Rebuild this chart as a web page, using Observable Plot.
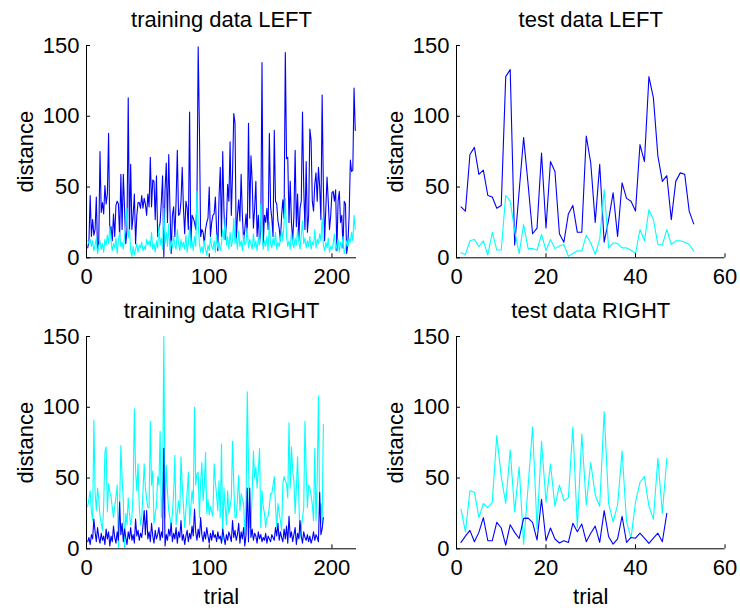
<!DOCTYPE html>
<html>
<head>
<meta charset="utf-8">
<script src="https://cdn.jsdelivr.net/npm/d3@7"></script>
<script src="https://cdn.jsdelivr.net/npm/@observablehq/plot@0.6"></script>
<style>
  html, body { margin: 0; padding: 0; background: #fff; }
  #wrap { position: relative; width: 740px; height: 608px; background: #fff; }
  #wrap svg { position: absolute; }
</style>
</head>
<body>
<div id="wrap"></div>
<script>
// ---------- data ----------
const titles = ["training data LEFT", "test data LEFT", "training data RIGHT", "test data RIGHT"];
const yLabel = "distance";
const xLabel = "trial";
const yTicks = [0, 50, 100, 150];
const trainTicks = [0, 100, 200];
const testTicks = [0, 20, 40, 60];
const trainDomain = [0, 220];
const testDomain = [0, 60];

const trainLeftBlue = [
  7,12,44,15,27,16,20,43,5,12,
  75,32,39,31,51,38,45,88,17,22,
  12,31,15,37,40,38,15,59,20,59,
  35,10,20,113,17,66,20,30,45,10,
  30,39,39,35,44,35,42,38,30,45,
  36,71,36,55,54,27,58,15,20,25,
  40,58,1,48,67,25,73,35,3,30,
  36,15,40,76,30,31,40,64,35,17,
  40,35,20,103,10,30,28,25,20,40,
  149,92,15,20,18,10,20,25,28,50,
  15,25,30,31,43,20,5,43,64,15,
  75,33,13,24,52,40,82,30,60,102,
  95,12,30,41,26,59,30,12,20,31,
  15,95,28,72,54,21,35,54,15,30,
  10,20,138,9,30,25,35,20,88,36,
  28,15,90,40,38,26,21,12,30,41,
  28,145,70,71,25,54,25,12,30,76,
  22,45,12,35,40,103,50,20,68,18,
  30,91,83,40,33,52,60,40,64,50,
  27,115,50,12,35,57,40,20,30,46,
  47,40,48,5,40,47,25,30,7,40,
  38,3,10,30,69,61,62,120,90
];
const trainLeftCyan = [
  12,10,13,8,12,5,9,14,3,8,
  12,6,10,4,13,9,16,10,22,12,
  5,10,7,14,3,12,18,8,11,6,
  15,22,35,14,20,5,1,8,2,6,
  10,4,9,7,11,5,8,6,13,9,
  12,8,18,6,10,4,12,7,23,9,
  14,6,35,10,18,8,24,5,12,7,
  15,9,6,20,10,5,13,8,11,6,
  16,4,10,22,7,12,5,15,8,47,
  25,10,4,8,3,12,6,2,9,5,
  14,8,6,12,4,16,7,11,5,10,
  20,13,28,9,15,6,18,8,12,28,
  10,14,6,19,8,12,5,16,9,11,
  21,7,13,10,6,17,8,12,5,14,
  9,38,20,6,12,8,15,5,25,10,
  7,14,9,18,6,11,8,13,20,12,
  25,42,15,8,12,6,18,10,7,14,
  9,20,11,6,16,26,10,14,7,12,
  8,15,6,11,9,20,7,13,10,17,
  12,28,9,5,11,7,14,4,8,6,
  10,17,5,9,13,4,11,7,15,3,
  6,12,8,14,11,18,12,30,20
];
const trainRightCyan = [
  30,35,41,26,20,91,40,27,43,35,
  23,18,13,30,68,72,26,46,40,37,
  29,22,30,37,45,1,30,73,50,34,
  1,25,17,36,25,17,22,40,99,55,
  41,60,30,17,22,40,60,43,35,29,
  29,90,45,55,18,25,30,51,45,83,
  22,40,150,22,59,40,27,22,15,25,
  39,66,17,25,34,25,65,45,30,15,
  28,40,54,17,30,41,32,100,45,53,
  54,22,47,61,34,45,68,25,35,24,
  30,26,23,60,47,38,27,48,22,74,
  6,43,30,17,41,25,30,36,76,45,
  22,22,35,52,27,39,35,32,11,32,
  111,60,15,15,40,69,50,58,43,55,
  71,15,41,30,25,15,22,23,30,39,
  39,45,51,30,15,32,25,20,13,46,
  51,48,46,36,89,43,72,55,48,25,
  43,65,35,8,15,22,29,90,55,29,
  45,43,38,31,20,71,20,50,108,25,
  32,18,88
];
const trainRightBlue = [
  5,8,3,10,7,21,12,5,15,8,
  4,11,6,9,3,14,7,12,2,9,
  5,16,8,4,12,6,33,10,18,5,
  14,8,3,12,7,15,6,10,4,21,
  9,13,6,11,8,16,27,10,27,7,
  12,5,18,9,4,13,7,10,15,6,
  12,8,71,2,10,6,14,9,18,5,
  11,7,15,4,12,8,20,6,10,3,
  9,13,5,11,7,16,9,28,12,6,
  14,8,22,10,5,12,7,15,9,4,
  11,6,13,8,10,5,12,7,9,4,
  14,8,3,10,6,12,9,5,20,8,
  13,6,10,18,4,12,7,15,2,10,
  43,5,43,8,14,6,11,9,4,12,
  7,10,5,8,6,11,4,9,7,5,
  10,8,6,15,9,18,6,12,8,5,
  14,7,16,4,23,8,12,5,10,15,
  3,11,7,20,9,4,12,8,6,10,
  5,9,4,7,12,6,10,8,5,40,
  10,14,22
];
const testLeftBlue = [
  36,33,73,78,59,62,44,43,35,37,
  128,133,9,47,85,52,17,21,74,21,
  68,61,17,11,31,37,18,18,86,67,
  25,66,11,27,46,15,53,42,40,33,
  80,68,128,113,72,54,58,27,54,60,
  59,33,24
];
const testLeftCyan = [
  3.5,2.4,12,13,8,12,2,18,5.5,5.5,
  44,40,19,3,23.5,6.5,6.5,5.5,16.5,5,
  13,6.5,8.4,9.4,1,3,5,4.7,16,10.6,
  2.4,13,48,7,10.6,10,7,7,5.3,3,
  20,12,34,27,9.4,9,20,9.4,12,12,
  11,9.4,4.7
];
const testRightCyan = [
  28,12,41,40,22,32,29,33,80,51,
  32,70,26,58,3,44,86,14,76,33,
  60,30,45,34,36,86,15,81,31,61,
  38,30,97,32,19,31,69,19,7.5,33,
  47,51,30,21,64,25,64
];
const testRightBlue = [
  4.5,9,13,5,11.6,22,5.7,5.7,18.7,14.7,
  2.6,17,11.6,7.3,21.5,21.7,18.7,6.2,35,5.7,
  14.7,6.9,4.1,5.7,4.5,18,12,17.5,5,11,
  16,4.5,27,8.5,3.3,7,23,4.5,8,7.5,
  11,7.5,3.8,7.5,11,5,25
];

// ---------- drawing ----------
const BLUE = "#0000ff", CYAN = "#00ffff";
const wrap = document.getElementById("wrap");

function panel({left, top, height, marginBottom, marginRight, domain, xTicks, first, second, title, showXLabel}) {
  const width = 370, marginLeft = 86, marginTop = 45;
  const plotW = width - marginLeft - marginRight;
  const plotH = height - marginTop - marginBottom;
  const marks = [
    Plot.axisX({ticks: xTicks, tickSize: 0, tickPadding: 11, label: null}),
    Plot.axisY({ticks: yTicks, tickSize: 0, tickPadding: 7, label: null}),
    Plot.line(first.values, {x: (d, i) => i + 1, y: d => d, stroke: first.color, strokeWidth: 1.1}),
    Plot.line(second.values, {x: (d, i) => i + 1, y: d => d, stroke: second.color, strokeWidth: 1.1}),
    Plot.tickY(yTicks, {y: d => d, insetRight: plotW - 4, stroke: "black", strokeWidth: 1}),
    Plot.tickX(xTicks, {x: d => d, insetTop: plotH - 4, stroke: "black", strokeWidth: 1}),
    Plot.ruleX([domain[0]], {stroke: "black", strokeWidth: 1}),
    Plot.ruleY([0], {stroke: "black", strokeWidth: 1}),
    Plot.text([title], {text: d => d, frameAnchor: "top", textAnchor: "middle", dy: -18.5, lineAnchor: "bottom", fill: "black"}),
    Plot.text([yLabel], {text: d => d, frameAnchor: "left", textAnchor: "middle", rotate: -90, dx: -54, lineAnchor: "bottom", fill: "black"})
  ];
  if (showXLabel) {
    marks.push(Plot.text([xLabel], {text: d => d, frameAnchor: "bottom", textAnchor: "middle", dy: 55, lineAnchor: "bottom", fill: "black"}));
  }
  const svg = Plot.plot({
    width, height, marginLeft, marginRight, marginTop, marginBottom,
    x: {domain, type: "linear"},
    y: {domain: [0, 150], type: "linear"},
    style: {fontFamily: "'Liberation Sans', Arial, Helvetica, sans-serif", fontSize: "22px", color: "black", background: "transparent", overflow: "visible"},
    marks
  });
  svg.style.left = left + "px";
  svg.style.top = top + "px";
  wrap.appendChild(svg);
}

panel({left: 0, top: 0, height: 291, marginBottom: 33.7, marginRight: 14, domain: trainDomain, xTicks: trainTicks,
  first: {values: trainLeftBlue, color: BLUE}, second: {values: trainLeftCyan, color: CYAN}, title: titles[0], showXLabel: false});
panel({left: 370, top: 0, height: 291, marginBottom: 33.7, marginRight: 15.5, domain: testDomain, xTicks: testTicks,
  first: {values: testLeftBlue, color: BLUE}, second: {values: testLeftCyan, color: CYAN}, title: titles[1], showXLabel: false});
panel({left: 0, top: 291, height: 317, marginBottom: 59.7, marginRight: 14, domain: trainDomain, xTicks: trainTicks,
  first: {values: trainRightCyan, color: CYAN}, second: {values: trainRightBlue, color: BLUE}, title: titles[2], showXLabel: true});
panel({left: 370, top: 291, height: 317, marginBottom: 59.7, marginRight: 15.5, domain: testDomain, xTicks: testTicks,
  first: {values: testRightCyan, color: CYAN}, second: {values: testRightBlue, color: BLUE}, title: titles[3], showXLabel: true});
</script>
</body>
</html>
